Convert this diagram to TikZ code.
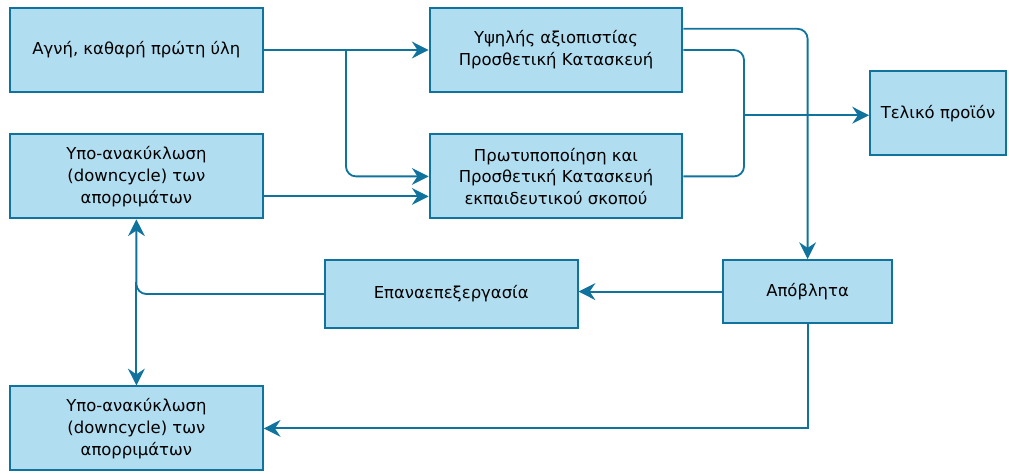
\documentclass[tikz,border=0pt]{standalone}
\usepackage{fontspec}
\setmainfont{DejaVu Sans}
\usepackage{tikz}
\usetikzlibrary{positioning,arrows.meta,calc}
\definecolor{boxfill}{HTML}{B1DDF0}
\definecolor{boxedge}{HTML}{10739E}
\tikzset{
  flowarrow/.style={-{Stealth[length=4.2mm,width=4.2mm,inset=1.4mm]}, line width=1.3pt, draw=boxedge, rounded corners=0.25cm},
  flowline/.style={line width=1.3pt, draw=boxedge, rounded corners=0.25cm},
  stepbox/.style={draw=boxedge, line width=1.3pt, fill=boxfill, align=center, minimum width=6.32cm, minimum height=2.1cm, inner sep=2pt},
  smallbox/.style={stepbox, minimum width=4.22cm, minimum height=1.58cm}
}
\begin{document}
\begin{tikzpicture}[every node/.style={font=\fontsize{11.7}{15.5}\selectfont}]
      \useasboundingbox (0,0) rectangle (25.225,-11.825);
      % sources on the left
      \node[stepbox] (pure) at (3.41,-1.25) {Αγνή, καθαρή πρώτη ύλη};
      \node[stepbox] (down1) at (3.41,-4.41) {Υπο-ανακύκλωση\\(downcycle) των\\απορριμάτων};
      \node[stepbox] (down2) at (3.41,-10.71) {Υπο-ανακύκλωση\\(downcycle) των\\απορριμάτων};
      % manufacturing
      \node[stepbox] (high) at (13.9,-1.25) {Υψηλής αξιοπιστίας\\Προσθετική Κατασκευή};
      \node[stepbox] (proto) at (13.9,-4.41) {Πρωτυποποίηση και\\Προσθετική Κατασκευή\\εκπαιδευτικού σκοπού};
      \node[stepbox, minimum width=3.4cm] (final) at (23.45,-2.83) {Τελικό προϊόν};
      % waste loop
      \node[stepbox, minimum height=1.7cm] (reproc) at (11.28,-7.35) {Επαναεπεξεργασία};
      \node[smallbox] (waste) at (20.19,-7.29) {Απόβλητα};
      \coordinate (split) at (8.65,-1.25);
      \coordinate (merge) at (18.6,-2.88);
      \draw[flowarrow] (pure.east) -- (high.west);
      \draw[flowarrow] (split) |- (proto.west);
      \draw[flowarrow] ([yshift=-0.5cm]down1.east) -- ([yshift=-0.5cm]proto.west);
      \draw[flowline] (high.east) -| (merge);
      \draw[flowline] (proto.east) -| (merge);
      \draw[flowarrow] (merge) -- (merge -| final.west);
      \draw[flowarrow] ([yshift=0.53cm]high.east) -| (waste.north);
      \draw[flowarrow] (waste.west) -- (waste.west -| reproc.east);
      \draw[flowarrow] (reproc.west) -| (down1.south);
      \draw[flowarrow] ([yshift=0.3cm]down1.south |- reproc.west) -- (down2.north);
      \draw[flowarrow, rounded corners=0pt] (waste.south) |- (down2.east);
    \end{tikzpicture}
\end{document}
